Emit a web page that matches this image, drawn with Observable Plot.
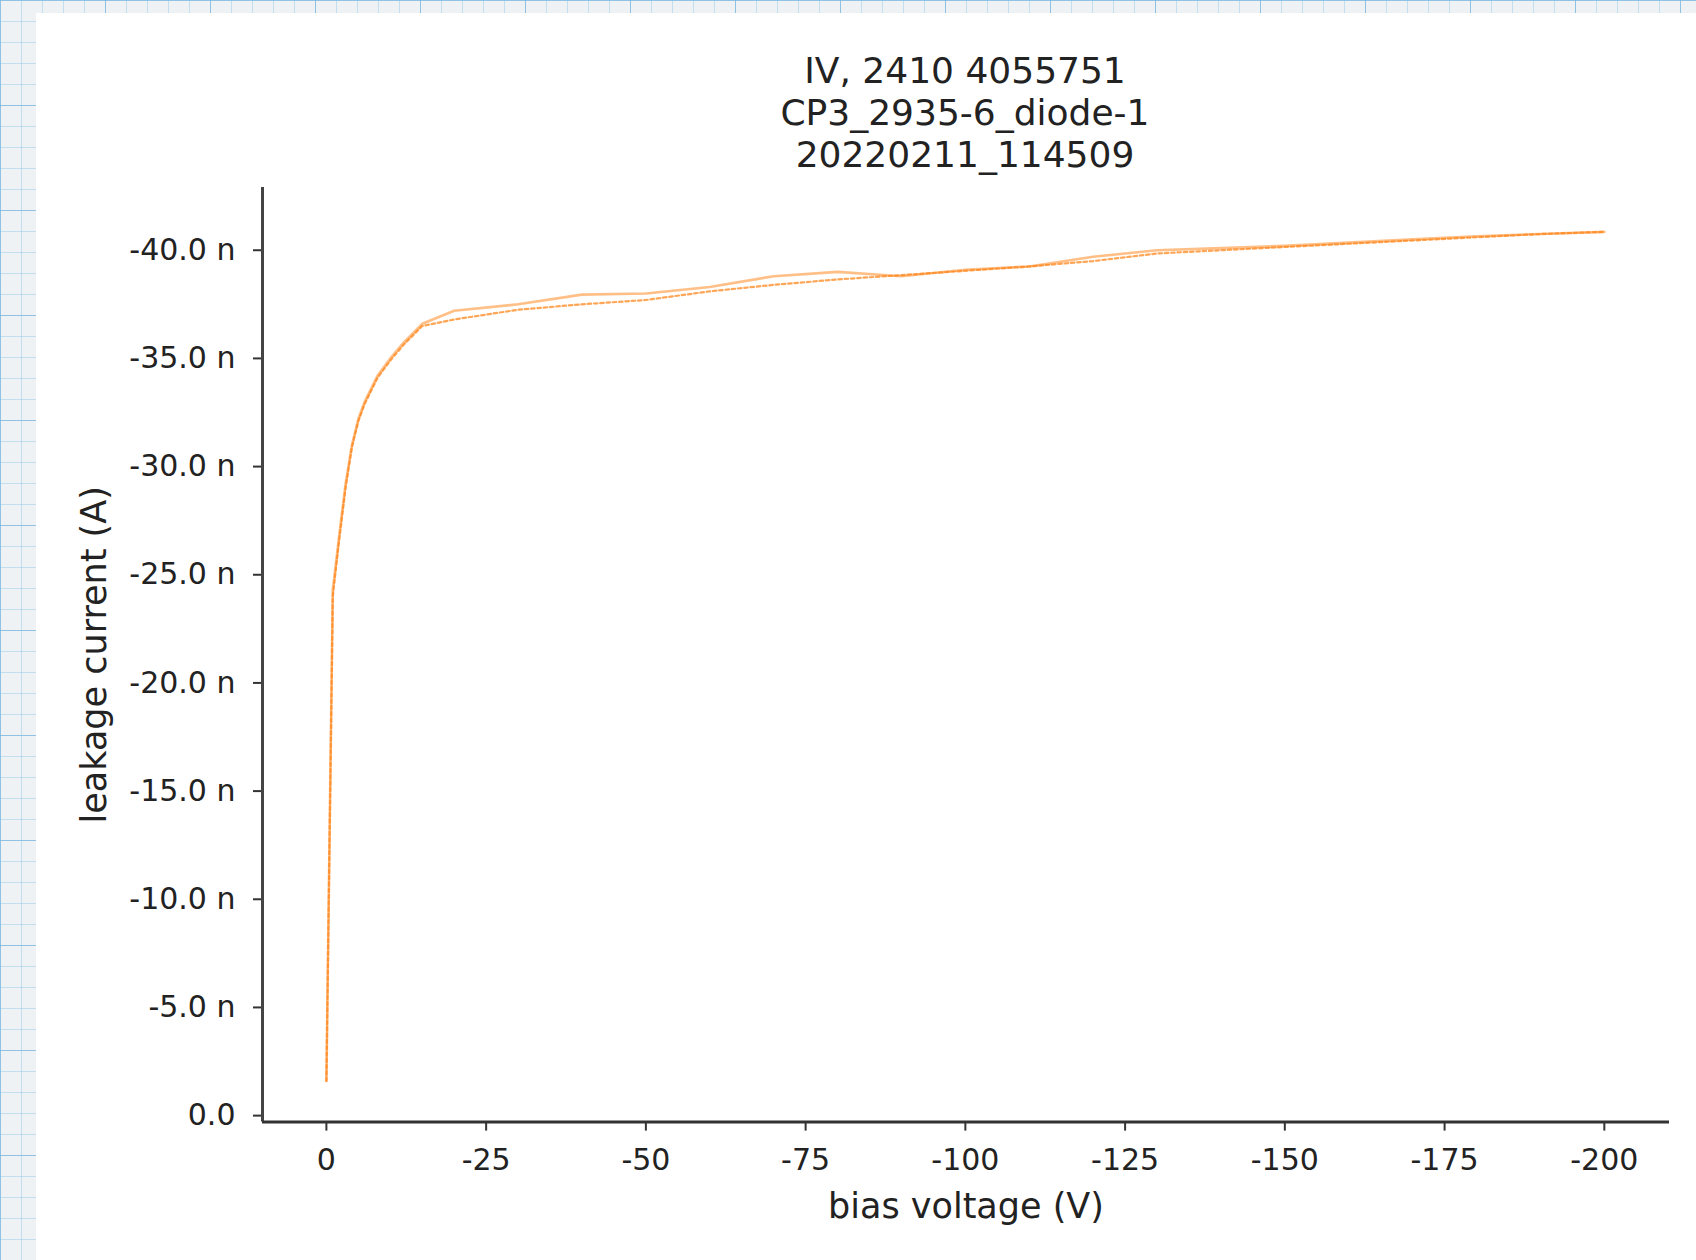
<!DOCTYPE html>
<html>
<head>
<meta charset="utf-8">
<script src="https://cdn.jsdelivr.net/npm/d3@7"></script>
<script src="https://cdn.jsdelivr.net/npm/@observablehq/plot@0.6"></script>
<style>
  html, body { margin: 0; padding: 0; width: 1696px; height: 1260px; overflow: hidden; }
  body {
    position: relative;
    background-color: #eef2f5;
    background-image:
      linear-gradient(to right, rgba(110,175,220,0.6) 1px, transparent 1px),
      linear-gradient(to bottom, rgba(110,175,220,0.6) 1px, transparent 1px),
      linear-gradient(to right, rgba(160,205,235,0.55) 1px, transparent 1px),
      linear-gradient(to bottom, rgba(160,205,235,0.55) 1px, transparent 1px);
    background-size: 105px 105px, 105px 105px, 21px 21px, 21px 21px;
    font-family: "DejaVu Sans", sans-serif;
  }
  #panel { position: absolute; left: 36px; top: 13px; right: 0; bottom: 0; background: #fff; }
  #title {
    position: absolute; left: 465px; width: 1000px; top: 50px;
    text-align: center; font-size: 36px; line-height: 42px; color: #222;
  }
  #chart { position: absolute; left: 32px; top: 180px; }
</style>
</head>
<body>
<div id="panel"></div>
<div id="title"></div>
<div id="chart"></div>
<script>
// ---- data ----
const titleLines = ["IV, 2410 4055751", "CP3_2935-6_diode-1", "20220211_114509"];
const xLabel = "bias voltage (V)";
const yLabel = "leakage current (A)";

// solid curve (bias voltage in V, leakage current in nA)
const voltageSolid = [0, -1, -2, -3, -4, -5, -6, -8, -10, -12, -15, -20, -30, -40, -50, -60, -70, -80, -90, -100, -110, -120, -130, -140, -150, -160, -170, -180, -190, -200];
const currentSolid = [-1.6, -24.3, -26.8, -29.2, -31.0, -32.2, -33.0, -34.2, -35.0, -35.7, -36.6, -37.2, -37.5, -37.95, -38.0, -38.3, -38.8, -39.0, -38.8, -39.1, -39.25, -39.7, -40.0, -40.1, -40.2, -40.35, -40.5, -40.65, -40.75, -40.85];

// dashed curve
const voltageDashed = [0, -1, -2, -3, -4, -5, -6, -8, -10, -12, -15, -20, -30, -40, -50, -60, -70, -80, -90, -100, -110, -120, -130, -140, -150, -160, -170, -180, -190, -200];
const currentDashed = [-1.6, -24.0, -26.6, -29.0, -30.9, -32.1, -32.9, -34.1, -34.9, -35.6, -36.5, -36.8, -37.25, -37.5, -37.7, -38.1, -38.4, -38.65, -38.85, -39.05, -39.25, -39.5, -39.85, -40.0, -40.15, -40.3, -40.45, -40.6, -40.75, -40.85];

const xTicks = [0, -25, -50, -75, -100, -125, -150, -175, -200];
const yTicks = [0, -5, -10, -15, -20, -25, -30, -35, -40];
const xDomain = [10, -210.2];
const yDomain = [0.3, -42.9];

// ---- build ----
document.getElementById("title").innerHTML = titleLines.map(t => `<div>${t}</div>`).join("");

const solid = voltageSolid.map((v, i) => ({v, i: currentSolid[i]}));
const dashed = voltageDashed.map((v, i) => ({v, i: currentDashed[i]}));

const chart = Plot.plot({
  width: 1664,
  height: 1080,
  marginLeft: 230,
  marginRight: 27,
  marginTop: 7,
  marginBottom: 138.4,
  style: {fontFamily: "DejaVu Sans", fontSize: "30px", color: "#222", background: "transparent", overflow: "visible"},
  x: {domain: xDomain},
  y: {domain: yDomain},
  marks: [
    Plot.line(solid, {x: "v", y: "i", stroke: "#ff7f0e", strokeOpacity: 0.5, strokeWidth: 2.6}),
    Plot.line(dashed, {x: "v", y: "i", stroke: "#ff7f0e", strokeOpacity: 0.7, strokeWidth: 2.2, strokeDasharray: "3.5,2.8"}),
    Plot.axisX({ticks: xTicks, tickSize: 9, tickPadding: 18, tickFormat: d => String(d), label: null, stroke: "#333", strokeWidth: 2, fontSize: 30, fill: "#222"}),
    Plot.axisY({ticks: yTicks, tickSize: 9, tickPadding: 18, tickFormat: d => d === 0 ? "0.0" : d.toFixed(1) + " n", label: null, stroke: "#333", strokeWidth: 2, fontSize: 30, fill: "#222"}),
    Plot.ruleX([xDomain[0]], {stroke: "#444", strokeWidth: 3}),
    Plot.ruleY([yDomain[0]], {stroke: "#333", strokeWidth: 3}),
    Plot.text([xLabel], {frameAnchor: "bottom", dy: 85, text: d => d, fontSize: 35, textAnchor: "middle", lineAnchor: "middle", fill: "#222"}),
    Plot.text([yLabel], {frameAnchor: "left", dx: -168, text: d => d, fontSize: 35, rotate: -90, textAnchor: "middle", lineAnchor: "middle", fill: "#222"})
  ]
});
document.getElementById("chart").appendChild(chart);
</script>
</body>
</html>
